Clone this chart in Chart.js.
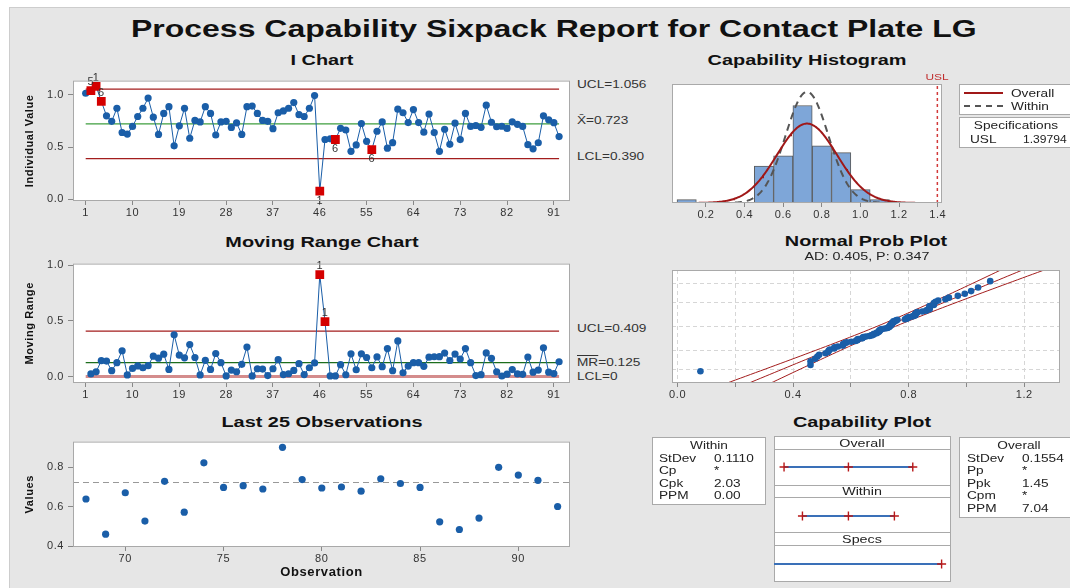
<!DOCTYPE html>
<html>
<head>
<meta charset="utf-8">
<title>Process Capability Sixpack Report for Contact Plate LG</title>
<script src="https://cdn.jsdelivr.net/npm/chart.js@4.4.1/dist/chart.umd.min.js"></script>
<style>
  body { margin:0; width:1070px; height:588px; overflow:hidden; background:#fff; position:relative;
         font-family:"Liberation Sans", Arial, sans-serif; }
  #frame { position:absolute; left:9px; top:7px; width:1080px; height:600px; background:#e6e6e6; border:1px solid #cdcdcd; }
  canvas { position:absolute; z-index:2; }
  .t { position:absolute; line-height:1; white-space:nowrap; color:#222; z-index:5; }
  .box { position:absolute; background:#fff; border:1px solid #a9a9a9; box-sizing:border-box; z-index:1; }
</style>
</head>
<body>
<div id="frame"></div>
<canvas id="iChart" width="555" height="150" style="left:20px;top:70px"></canvas>
<canvas id="mrChart" width="555" height="150" style="left:20px;top:253px"></canvas>
<canvas id="lastChart" width="555" height="157" style="left:20px;top:431px"></canvas>
<canvas id="histChart" width="280" height="143" style="left:667px;top:79px"></canvas>
<canvas id="probChart" width="398" height="137" style="left:667px;top:265px"></canvas>
<canvas id="capChart" width="177" height="146" style="left:774px;top:436px;z-index:3"></canvas>
<script>
// individual values, observations 1..92
var iValues = [1.016, 1.040, 1.082, 0.939, 0.800, 0.747, 0.872, 0.640, 0.625, 0.698,
  0.793, 0.872, 0.970, 0.787, 0.622, 0.823, 0.887, 0.512, 0.704, 0.872,
  0.585, 0.756, 0.741, 0.887, 0.823, 0.616, 0.741, 0.747, 0.689, 0.732,
  0.622, 0.887, 0.893, 0.823, 0.756, 0.747, 0.677, 0.829, 0.847, 0.872,
  0.927, 0.811, 0.793, 0.872, 0.994, 0.079, 0.573, 0.579, 0.573, 0.680,
  0.664, 0.460, 0.521, 0.726, 0.555, 0.476, 0.652, 0.741, 0.490, 0.543,
  0.863, 0.829, 0.735, 0.860, 0.735, 0.643, 0.817, 0.639, 0.460, 0.671,
  0.527, 0.729, 0.572, 0.823, 0.698, 0.707, 0.690, 0.902, 0.738, 0.695,
  0.700, 0.679, 0.742, 0.718, 0.698, 0.523, 0.484, 0.542, 0.800, 0.761,
  0.734, 0.601];
// moving ranges, first observation has none
var mrValues = [null, 0.024, 0.042, 0.143, 0.139, 0.053, 0.125, 0.232, 0.015, 0.073,
  0.095, 0.079, 0.098, 0.183, 0.165, 0.201, 0.064, 0.375, 0.192, 0.168,
  0.287, 0.171, 0.015, 0.146, 0.064, 0.207, 0.125, 0.006, 0.058, 0.043,
  0.110, 0.265, 0.006, 0.070, 0.067, 0.009, 0.070, 0.152, 0.018, 0.025,
  0.055, 0.116, 0.018, 0.079, 0.122, 0.915, 0.494, 0.006, 0.006, 0.107,
  0.016, 0.204, 0.061, 0.205, 0.171, 0.079, 0.176, 0.089, 0.251, 0.053,
  0.320, 0.034, 0.094, 0.125, 0.125, 0.092, 0.174, 0.178, 0.179, 0.211,
  0.144, 0.202, 0.157, 0.251, 0.125, 0.009, 0.017, 0.212, 0.164, 0.043,
  0.005, 0.021, 0.063, 0.024, 0.020, 0.175, 0.039, 0.058, 0.258, 0.039,
  0.027, 0.133];
// failed tests
var iFlagObs = [2, 3, 4, 46, 49, 56];
var iFlagText = ["5", "1", "6", "1", "6", "6"];
var mrFlagObs = [46, 47];
var mrFlagText = ["1", "1"];
// limits and stats
var iUCL = 1.056, iCL = 0.723, iLCL = 0.390;
var mrUCL = 0.409, mrCL = 0.125, mrLCL = 0;
var usl = 1.39794;
var sdWithin = 0.1110, sdOverall = 0.1554;
// histogram bins
var histCenters = [0.1, 0.2, 0.3, 0.4, 0.5, 0.6, 0.7, 0.8, 0.9, 1.0, 1.1];
var histCounts = [1, 0, 0, 0, 11, 14, 29, 17, 15, 4, 1];
var histBin = 0.1;
// ticks
var obsTicks = [1, 10, 19, 28, 37, 46, 55, 64, 73, 82, 91];
var ctrlYTicks = [0, 0.5, 1.0];
var lastXTicks = [70, 75, 80, 85, 90];
var lastYTicks = [0.4, 0.6, 0.8];
var histTicks = [0.2, 0.4, 0.6, 0.8, 1.0, 1.2, 1.4];
var probXTicks = [0, 0.2, 0.4, 0.6, 0.8, 1.0, 1.2];
var probPercents = [1, 10, 50, 90, 99];

var BLUE = "#1a5ea8", RED = "#d40000", DKRED = "#a31d1d";

var obs = [];
for (var i = 1; i <= iValues.length; i++) obs.push(i);
var nObs = iValues.length;

Chart.defaults.font.family = '"Liberation Sans", Arial, sans-serif';
Chart.defaults.font.size = 11;
Chart.defaults.color = "#333";
Chart.defaults.animation = false;
Chart.defaults.responsive = false;
Chart.defaults.plugins.legend.display = false;
Chart.defaults.plugins.tooltip.enabled = false;

// white plot area with grey border
var framePlugin = {
  id: "frame",
  beforeDraw: function (chart, args, opts) {
    chart.ctx.letterSpacing = "0.6px";
    if (opts.off) return;
    var a = chart.chartArea, c = chart.ctx;
    c.save();
    c.fillStyle = "#fff";
    c.fillRect(a.left, a.top, a.right - a.left, a.bottom - a.top);
    c.restore();
  },
  afterDraw: function (chart, args, opts) {
    if (opts.off) return;
    var a = chart.chartArea, c = chart.ctx;
    c.save();
    c.strokeStyle = "#a9a9a9";
    c.lineWidth = 1;
    c.strokeRect(a.left + 0.5, a.top + 0.5, a.right - a.left - 1, a.bottom - a.top - 1);
    c.restore();
  }
};

// test numbers next to red points
var flagLabelPlugin = {
  id: "flagLabels",
  afterDatasetsDraw: function (chart, args, opts) {
    if (!opts.idx) return;
    var c = chart.ctx, xs = chart.scales.x, ys = chart.scales.y;
    c.save();
    c.font = '11px "Liberation Sans", Arial, sans-serif';
    c.fillStyle = "#333";
    c.textAlign = "center";
    for (var k = 0; k < opts.idx.length; k++) {
      var n = opts.idx[k], v = opts.values[n - 1];
      var px = xs.getPixelForValue(n), py = ys.getPixelForValue(v);
      var above = v > opts.center;
      c.textBaseline = above ? "bottom" : "top";
      c.fillText(opts.text[k], px, above ? py - 3 : py + 4);
    }
    c.restore();
  }
};
Chart.register(framePlugin, flagLabelPlugin);

function fixedTicks(vals) {
  return function (s) { s.ticks = vals.map(function (v) { return { value: v }; }); };
}
function xAxis(min, max, vals, fmt, h, title) {
  return {
    type: "linear", min: min, max: max, offset: false, afterBuildTicks: fixedTicks(vals),
    ticks: { autoSkip: false, maxRotation: 0, padding: 1, callback: fmt },
    grid: { drawOnChartArea: false, offset: false, tickLength: 4, color: "#888" },
    border: { display: false },
    afterFit: function (s) { s.height = h; },
    title: title || { display: false }
  };
}
function yAxis(min, max, vals, fmt, w, title) {
  return {
    type: "linear", min: min, max: max, afterBuildTicks: fixedTicks(vals),
    ticks: { autoSkip: false, padding: 4, callback: fmt },
    grid: { drawOnChartArea: false, tickLength: 5, color: "#888" },
    border: { display: false },
    afterFit: function (s) { s.width = w; },
    title: title || { display: false }
  };
}
function pts(xs, ys) {
  return xs.map(function (x, k) { return { x: x, y: ys[k] }; });
}
function hline(y, x0, x1, color, w, dash) {
  return { data: [{ x: x0, y: y }, { x: x1, y: y }], showLine: true, borderColor: color,
    borderWidth: w, borderDash: dash || [], pointRadius: 0 };
}
function f1(v) { return Number(v).toFixed(1); }
function plain(v) { return v; }
function isIn(list, n) { return list.indexOf(n) >= 0; }
function axisTitle(text) {
  return { display: true, text: text, font: { size: 11, weight: "bold" }, color: "#111", padding: { top: 3, bottom: 0 } };
}

// I chart
new Chart(document.getElementById("iChart"), {
  type: "scatter",
  data: {
    datasets: [
      {
        data: pts(obs, iValues), showLine: true, borderColor: BLUE, borderWidth: 1,
        pointStyle: function (c) { return isIn(iFlagObs, c.dataIndex + 1) ? "rect" : "circle"; },
        pointRadius: function (c) { return isIn(iFlagObs, c.dataIndex + 1) ? 6.2 : 3.6; },
        pointBackgroundColor: function (c) { return isIn(iFlagObs, c.dataIndex + 1) ? RED : BLUE; },
        pointBorderWidth: 0
      },
      hline(iUCL, 1, nObs, DKRED, 1.3),
      hline(iCL, 1, nObs, "#3e9e3e", 1.3),
      hline(iLCL, 1, nObs, DKRED, 1.3)
    ]
  },
  options: {
    layout: { padding: { top: 5, right: 5 } },
    scales: {
      x: xAxis(-1.44, 94.1, obsTicks, plain, 19),
      y: yAxis(-0.016, 1.137, ctrlYTicks, f1, 53, axisTitle("Individual Value"))
    },
    plugins: { flagLabels: { idx: iFlagObs, text: iFlagText, values: iValues, center: iCL } }
  }
});

// moving range chart
new Chart(document.getElementById("mrChart"), {
  type: "scatter",
  data: {
    datasets: [
      {
        data: pts(obs, mrValues), showLine: true, borderColor: BLUE, borderWidth: 1,
        pointStyle: function (c) { return isIn(mrFlagObs, c.dataIndex + 1) ? "rect" : "circle"; },
        pointRadius: function (c) { return isIn(mrFlagObs, c.dataIndex + 1) ? 6.2 : 3.6; },
        pointBackgroundColor: function (c) { return isIn(mrFlagObs, c.dataIndex + 1) ? RED : BLUE; },
        pointBorderWidth: 0
      },
      hline(mrUCL, 1, nObs, DKRED, 1.3),
      hline(mrCL, 1, nObs, "#1d6e1d", 1.3),
      hline(mrLCL, 1, nObs, "#d48c8c", 3)
    ]
  },
  options: {
    layout: { padding: { top: 5, right: 5 } },
    scales: {
      x: xAxis(-1.44, 94.1, obsTicks, plain, 20),
      y: yAxis(-0.058, 1.015, ctrlYTicks, f1, 53, axisTitle("Moving Range"))
    },
    plugins: { flagLabels: { idx: mrFlagObs, text: mrFlagText, values: mrValues, center: mrCL } }
  }
});

// last 25 observations
var lastObs = obs.slice(nObs - 25);
var lastVals = iValues.slice(nObs - 25);
new Chart(document.getElementById("lastChart"), {
  type: "scatter",
  data: {
    datasets: [
      { data: pts(lastObs, lastVals), pointRadius: 3.6, pointBackgroundColor: BLUE, pointBorderWidth: 0 },
      hline(iCL, 67.34, 92.63, "#999", 1.2, [6, 4])
    ]
  },
  options: {
    layout: { padding: { top: 5, right: 5 } },
    scales: {
      x: xAxis(67.34, 92.63, lastXTicks, plain, 41,
        { display: true, text: "Observation", font: { size: 13, weight: "bold" }, color: "#111", padding: { top: 0, bottom: 8 } }),
      y: yAxis(0.395, 0.931, lastYTicks, f1, 53, axisTitle("Values"))
    }
  }
});

// capability histogram
function normalCurve(mu, sd, from, to) {
  var n = 0, out = [];
  for (var k = 0; k < histCounts.length; k++) n += histCounts[k];
  for (var x = from; x <= to + 1e-9; x += 0.005) {
    out.push({ x: x, y: n * histBin * Math.exp(-0.5 * Math.pow((x - mu) / sd, 2)) / (sd * Math.sqrt(2 * Math.PI)) });
  }
  return out;
}
new Chart(document.getElementById("histChart"), {
  type: "bar",
  data: {
    datasets: [
      {
        type: "line", data: normalCurve(iCL, sdOverall, 0.15, 1.30), borderColor: "#a01818",
        borderWidth: 2, pointRadius: 0, tension: 0
      },
      {
        type: "line", data: normalCurve(iCL, sdWithin, 0.35, 1.10), borderColor: "#555",
        borderWidth: 2, borderDash: [7, 5], pointRadius: 0, tension: 0
      },
      {
        type: "line", data: [{ x: usl, y: 0 }, { x: usl, y: 35.4 }], borderColor: "#d23a3a",
        borderWidth: 1.5, borderDash: [3, 3], pointRadius: 0
      },
      {
        type: "bar", data: pts(histCenters, histCounts), backgroundColor: "#7ea6d8",
        borderColor: "#5b5b5b", borderWidth: function (c) { return c.raw && c.raw.y > 0 ? 1 : 0; },
        barPercentage: 1, categoryPercentage: 1, borderSkipped: false
      }
    ]
  },
  options: {
    layout: { padding: { top: 5, right: 5, left: 5 } },
    scales: {
      x: xAxis(0.024, 1.422, histTicks, f1, 19),
      y: { display: false, min: 0, max: 35.4 }
    }
  }
});

// normal probability plot
function qnorm(p) {
  var a = [-39.69683028665376, 220.9460984245205, -275.9285104469687, 138.3577518672690, -30.66479806614716, 2.506628277459239];
  var b = [-54.47609879822406, 161.5858368580409, -155.6989798598866, 66.80131188771972, -13.28068155288572];
  var c = [-0.007784894002430293, -0.3223964580411365, -2.400758277161838, -2.549732539343734, 4.374664141464968, 2.938163982698783];
  var d = [0.007784695709041462, 0.3224671290700398, 2.445134137142996, 3.754408661907416];
  var q, r;
  if (p < 0.02425) {
    q = Math.sqrt(-2 * Math.log(p));
    return (((((c[0] * q + c[1]) * q + c[2]) * q + c[3]) * q + c[4]) * q + c[5]) / ((((d[0] * q + d[1]) * q + d[2]) * q + d[3]) * q + 1);
  }
  if (p > 1 - 0.02425) return -qnorm(1 - p);
  q = p - 0.5; r = q * q;
  return (((((a[0] * r + a[1]) * r + a[2]) * r + a[3]) * r + a[4]) * r + a[5]) * q / (((((b[0] * r + b[1]) * r + b[2]) * r + b[3]) * r + b[4]) * r + 1);
}
var sorted = iValues.slice().sort(function (p, q) { return p - q; });
var probPts = sorted.map(function (v, k) { return { x: v, y: qnorm((k + 1 - 0.3) / (nObs + 0.4)) }; });
function band(side) {
  var out = [];
  for (var z = -3.6; z <= 3.6001; z += 0.1) {
    out.push({ x: iCL + sdOverall * z + side * 1.96 * sdOverall * Math.sqrt((1 + z * z / 2) / nObs), y: z });
  }
  return out;
}
new Chart(document.getElementById("probChart"), {
  type: "scatter",
  data: {
    datasets: [
      { data: probPts, pointRadius: 3.3, pointBackgroundColor: BLUE, pointBorderWidth: 0 },
      { data: band(0), showLine: true, borderColor: DKRED, borderWidth: 1, pointRadius: 0 },
      { data: band(1), showLine: true, borderColor: DKRED, borderWidth: 1, pointRadius: 0 },
      { data: band(-1), showLine: true, borderColor: DKRED, borderWidth: 1, pointRadius: 0 }
    ]
  },
  options: {
    layout: { padding: { top: 5, right: 5, left: 5 } },
    scales: {
      x: {
        type: "linear", min: -0.0194, max: 1.3236, afterBuildTicks: fixedTicks(probXTicks),
        ticks: { autoSkip: false, maxRotation: 0, padding: 1,
          callback: function (v) { return Math.abs(Math.round(v / 0.4) * 0.4 - v) < 1e-6 ? f1(v) : ""; } },
        grid: { color: "#d6d6d6", tickColor: "#888", tickLength: 4 },
        border: { display: false, dash: [4, 3] },
        afterFit: function (s) { s.height = 19; }
      },
      y: {
        type: "linear", min: -3.06, max: 3.03,
        afterBuildTicks: fixedTicks(probPercents.map(function (p) { return qnorm(p / 100); })),
        ticks: { display: false },
        grid: { color: "#d6d6d6", drawTicks: false },
        border: { display: false, dash: [4, 3] },
        afterFit: function (s) { s.width = 0; }
      }
    }
  }
});

// capability plot (tolerance bars)
var capLevels = { overall: 31, within: 80, specs: 128 };
function capLine(lo, hi, y, marks) {
  return {
    data: [{ x: lo, y: y }, { x: (lo + hi) / 2, y: y }, { x: hi, y: y }], showLine: true,
    borderColor: "#3a70b8", borderWidth: 2, pointStyle: "cross",
    pointRadius: marks, pointBorderColor: "#b81818", pointBorderWidth: 1.4
  };
}
new Chart(document.getElementById("capChart"), {
  type: "scatter",
  data: {
    datasets: [
      capLine(iCL - 3 * sdOverall, iCL + 3 * sdOverall, capLevels.overall, 4.5),
      capLine(iCL - 3 * sdWithin, iCL + 3 * sdWithin, capLevels.within, 4.5),
      {
        data: [{ x: 0.184, y: capLevels.specs }, { x: usl, y: capLevels.specs }], showLine: true,
        borderColor: "#3a70b8", borderWidth: 2, pointStyle: "cross",
        pointRadius: [0, 4.5], pointBorderColor: "#b81818", pointBorderWidth: 1.4
      }
    ]
  },
  options: {
    layout: { padding: 0, autoPadding: false },
    scales: {
      x: { display: false, min: 0.184, max: 1.466 },
      y: { display: false, min: 0, max: 146, reverse: true }
    },
    plugins: { frame: { off: true } }
  }
});

// text and boxes
function txt(x, y, s, size, opt) {
  opt = opt || {};
  var d = document.createElement("div");
  d.className = "t";
  d.innerHTML = s;
  d.style.fontSize = size + "px";
  d.style.top = (y - size * 0.5) + "px";
  if (opt.bold) d.style.fontWeight = "bold";
  if (opt.color) d.style.color = opt.color;
  if (opt.align === "center") {
    d.style.left = (x - 300) + "px"; d.style.width = "600px"; d.style.textAlign = "center";
    d.style.transformOrigin = "50% 50%";
  } else {
    d.style.left = x + "px"; d.style.transformOrigin = "0 50%";
  }
  d.style.transform = "scaleX(" + (opt.sx || 1.3) + ")";
  document.body.appendChild(d);
}
function box(x, y, w, h) {
  var d = document.createElement("div");
  d.className = "box";
  d.style.left = x + "px"; d.style.top = y + "px";
  d.style.width = w + "px"; d.style.height = h + "px";
  document.body.appendChild(d);
  return d;
}

txt(548, 29, "Process Capability Sixpack Report for Contact Plate LG", 23, { bold: true, align: "center", sx: 1.39, color: "#111" });
var tOpt = { bold: true, align: "center", sx: 1.42, color: "#111" };
txt(322, 60, "I Chart", 14, tOpt);
txt(807, 60, "Capability Histogram", 14, tOpt);
txt(322, 242, "Moving Range Chart", 14, tOpt);
txt(866, 241, "Normal Prob Plot", 14, tOpt);
txt(867, 256, "AD: 0.405, P: 0.347", 11, { align: "center", sx: 1.3 });
txt(322, 422, "Last 25 Observations", 14, tOpt);
txt(862, 422, "Capability Plot", 14, tOpt);

txt(577, 84, "UCL=1.056", 10.5, { color: "#333" });
txt(577, 120, "X&#772;=0.723", 10.5, { color: "#333" });
txt(577, 156, "LCL=0.390", 10.5, { color: "#333" });
txt(577, 328, "UCL=0.409", 10.5, { color: "#333" });
txt(577, 362, "<span style='text-decoration:overline'>MR</span>=0.125", 10.5, { color: "#333" });
txt(577, 376, "LCL=0", 10.5, { color: "#333" });
txt(937, 77, "USL", 9.5, { align: "center", color: "#c03030", sx: 1.25 });

// histogram legend
box(959, 84, 120, 31);
var l1 = box(964, 92, 39, 0); l1.style.border = "none"; l1.style.borderTop = "2px solid #a01818"; l1.style.zIndex = 4;
var l2 = box(964, 105, 39, 0); l2.style.border = "none"; l2.style.borderTop = "2px dashed #555"; l2.style.zIndex = 4;
txt(1011, 93, "Overall", 10.5);
txt(1011, 106, "Within", 10.5);
box(959, 117, 120, 31);
txt(1016, 125, "Specifications", 10.5, { align: "center" });
txt(970, 139, "USL", 10.5);
txt(1023, 139, "1.39794", 10.5, { sx: 1.15 });

// capability plot stats
box(652, 437, 114, 68);
txt(709, 445, "Within", 10.5, { align: "center" });
var wRows = [["StDev", "0.1110"], ["Cp", "*"], ["Cpk", "2.03"], ["PPM", "0.00"]];
wRows.forEach(function (r, k) { txt(659, 458 + k * 12.4, r[0], 10.5); txt(714, 458 + k * 12.4, r[1], 10.5); });
box(959, 437, 120, 81);
txt(1019, 445, "Overall", 10.5, { align: "center" });
var oRows = [["StDev", "0.1554"], ["Pp", "*"], ["Ppk", "1.45"], ["Cpm", "*"], ["PPM", "7.04"]];
oRows.forEach(function (r, k) { txt(967, 458 + k * 12.5, r[0], 10.5); txt(1022, 458 + k * 12.5, r[1], 10.5); });

box(774, 436, 177, 14);
box(774, 449, 177, 37);
box(774, 485, 177, 13);
box(774, 497, 177, 36);
box(774, 532, 177, 14);
box(774, 545, 177, 37);
txt(862, 443, "Overall", 11, { align: "center" });
txt(862, 491.5, "Within", 11, { align: "center" });
txt(862, 539.5, "Specs", 11, { align: "center" });
</script>
</body>
</html>
